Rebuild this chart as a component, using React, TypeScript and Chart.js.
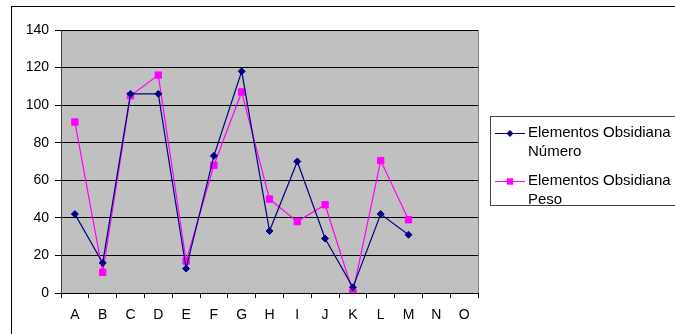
import React, { useEffect, useRef } from "react";
import { Chart, registerables } from "chart.js";

Chart.register(...registerables);

const categories = ["A", "B", "C", "D", "E", "F", "G", "H", "I", "J", "K", "L", "M", "N", "O"];
const numeroValues = [42, 16, 106, 106, 13, 73, 118, 33, 70, 29, 3, 42, 31];
const pesoValues = [91, 11, 105, 116, 17, 68, 107, 50, 38, 47, 0.4, 70.5, 39];
const seriesNames = [["Elementos Obsidiana", "Número"], ["Elementos Obsidiana", "Peso"]];
const yTicks = [0, 20, 40, 60, 80, 100, 120, 140];

const NAVY = "#000080";
const MAGENTA = "#FF00FF";
const FONT = "'Liberation Sans', Arial, sans-serif";

function drawMarker(ctx: CanvasRenderingContext2D, style: string, x: number, y: number, r: number) {
  ctx.beginPath();
  if (style === "rectRot") {
    ctx.moveTo(x, y - r);
    ctx.lineTo(x + r, y);
    ctx.lineTo(x, y + r);
    ctx.lineTo(x - r, y);
    ctx.closePath();
  } else {
    const s = r * Math.SQRT1_2;
    ctx.rect(x - s, y - s, 2 * s, 2 * s);
  }
  ctx.fill();
}

const framePlugin = {
  id: "framePlugin",
  beforeDraw(chart: any) {
    const { ctx, chartArea } = chart;
    ctx.save();
    ctx.fillStyle = "#ffffff";
    ctx.fillRect(0, 0, chart.width, chart.height);
    ctx.strokeStyle = "#000000";
    ctx.lineWidth = 1;
    ctx.strokeRect(11.5, 6.5, chart.width + 20, chart.height + 20);
    ctx.fillStyle = "#C0C0C0";
    ctx.fillRect(chartArea.left, chartArea.top, chartArea.right - chartArea.left, chartArea.bottom - chartArea.top);
    ctx.strokeStyle = "#808080";
    ctx.strokeRect(
      Math.round(chartArea.left) + 0.5,
      Math.round(chartArea.top) + 0.5,
      Math.round(chartArea.right - chartArea.left),
      Math.round(chartArea.bottom - chartArea.top)
    );
    ctx.restore();
  },
  afterDraw(chart: any) {
    const { ctx } = chart;
    ctx.save();
    const bx = 490;
    const by = 116;
    ctx.fillStyle = "#ffffff";
    ctx.fillRect(bx, by, chart.width - bx + 10, 89);
    ctx.strokeStyle = "#404040";
    ctx.lineWidth = 1;
    ctx.strokeRect(bx + 0.5, by + 0.5, chart.width - bx + 10, 89);
    const colors = [NAVY, MAGENTA];
    const styles = ["rectRot", "rect"];
    const rowY = [133, 181];
    ctx.font = `15px ${FONT}`;
    ctx.textBaseline = "middle";
    ctx.textAlign = "left";
    for (let i = 0; i < 2; i++) {
      const y = rowY[i];
      ctx.strokeStyle = colors[i];
      ctx.lineWidth = 1;
      ctx.beginPath();
      ctx.moveTo(495, y + 0.5);
      ctx.lineTo(525, y + 0.5);
      ctx.stroke();
      ctx.fillStyle = colors[i];
      drawMarker(ctx, styles[i], 510, y + 0.5, i === 0 ? 3.5 : 4.5);
      ctx.fillStyle = "#000000";
      ctx.fillText(seriesNames[i][0], 528, y);
      ctx.fillText(seriesNames[i][1], 528, y + 18.5);
    }
    ctx.restore();
  },
};

export default function App() {
  const ref = useRef<HTMLCanvasElement>(null);
  useEffect(() => {
    const canvas = ref.current;
    if (!canvas) return;
    const chart = new Chart(canvas, {
      type: "line",
      data: {
        labels: categories,
        datasets: [
          {
            label: seriesNames[0].join(" "),
            data: numeroValues,
            borderColor: NAVY,
            backgroundColor: NAVY,
            borderWidth: 1.2,
            pointStyle: "rectRot",
            pointRadius: 3.5,
            pointBorderWidth: 1,
            tension: 0,
          },
          {
            label: seriesNames[1].join(" "),
            data: pesoValues,
            borderColor: MAGENTA,
            backgroundColor: MAGENTA,
            borderWidth: 1.2,
            pointStyle: "rect",
            pointRadius: 4.5,
            pointBorderWidth: 1,
            tension: 0,
          },
        ],
      },
      options: {
        animation: false,
        responsive: false,
        maintainAspectRatio: false,
        layout: { padding: { left: 11, top: 30, right: 197, bottom: 0 } },
        plugins: {
          legend: { display: false },
          tooltip: { enabled: false },
        },
        scales: {
          x: {
            type: "category",
            offset: true,
            grid: {
              offset: true,
              drawOnChartArea: false,
              drawTicks: true,
              tickLength: 5,
              color: "#000000",
            },
            border: { display: true, color: "#000000", width: 1 },
            ticks: {
              color: "#000000",
              font: { family: FONT, size: 14 },
              padding: 9,
              maxRotation: 0,
              autoSkip: false,
            },
            afterFit(scale: any) {
              scale.height = 41;
            },
          },
          y: {
            min: 0,
            max: 140,
            afterBuildTicks(scale: any) {
              scale.ticks = yTicks.map((v) => ({ value: v }));
            },
            grid: {
              drawTicks: true,
              tickLength: 6,
              color: "#000000",
            },
            border: { display: true, color: "#404040", width: 1 },
            ticks: {
              color: "#000000",
              font: { family: FONT, size: 14 },
              padding: 6,
            },
            afterFit(scale: any) {
              scale.width = 50;
            },
          },
        },
      },
      plugins: [framePlugin],
    });
    return () => chart.destroy();
  }, []);
  return (
    <div style={{ position: "fixed", left: 0, top: 0, width: 675, height: 334, background: "#fff" }}>
      <canvas ref={ref} width={675} height={334} style={{ display: "block" }} />
    </div>
  );
}
